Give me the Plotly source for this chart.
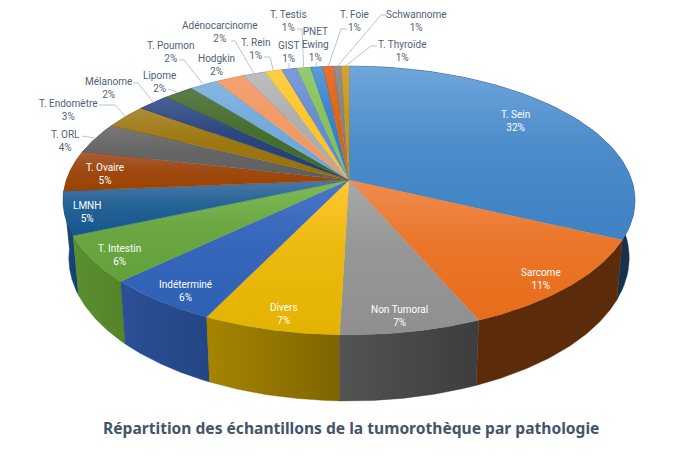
import numpy as np
import plotly.graph_objects as go
from plotly.colors import find_intermediate_color, hex_to_rgb

categories = ["T. Sein", "Sarcome", "Non Tumoral", "Divers", "Indéterminé", "T. Intestin", "LMNH",
              "T. Ovaire", "T. ORL", "T. Endomètre", "Mélanome", "Lipome", "T. Poumon", "Hodgkin",
              "Adénocarcinome", "T. Rein", "GIST", "T. Testis", "PNET<br>Ewing", "T. Foie",
              "Schwannome", "T. Thyroïde"]
values = [32.0, 11.5, 6.9, 6.7, 5.7, 5.6, 5.2, 4.9, 3.7, 2.9, 2.1, 2.0, 1.8, 1.9, 1.5, 1.1, 1.0, 0.9,
          0.8, 0.7, 0.5, 0.5]
percent_labels = ["32%", "11%", "7%", "7%", "6%", "6%", "5%", "5%", "4%", "3%", "2%", "2%", "2%", "2%",
                  "2%", "1%", "1%", "1%", "1%", "1%", "1%", "1%"]
title_text = "Répartition des échantillons de la tumorothèque par pathologie"

top_light = ["#70a6db", "#ef8c50", "#a8a8a8", "#ffc832", "#4a76c8", "#80ba58", "#4a7aa6", "#aa5e3c",
             "#787878", "#ae8c38", "#4a6096", "#5c7c4c", "#88b6e2", "#f4a272", "#bebebe", "#ffce48",
             "#7d9cd8", "#96ca74", "#5c9ad8", "#e47238", "#909090", "#d4a03c"]
top_dark = ["#3d82c4", "#e86c1a", "#8f8f8f", "#e4b200", "#2e60b4", "#62a03a", "#15578f", "#9c4200",
            "#5e5e5e", "#967000", "#1f3c74", "#3f6a22", "#6aa5dc", "#f09860", "#a9a9a9", "#fcc31c",
            "#5f88cf", "#80c050", "#2b78c6", "#db5f00", "#7f7f7f", "#c89400"]
wall_left = ["#1e4468", "#5b2b0a", "#535353", "#a68500", "#2c4f96", "#5a8f30", "#164f80", "#7a3000",
             "#4a4a4a", "#6e5500", "#16294f", "#2a4a18", "#4a78a0", "#a8603a", "#707070", "#a88a10",
             "#3d5a90", "#5a8a38", "#1e5590", "#983f00", "#585858", "#8a6800"]
wall_right = ["#16314e", "#5b2b0a", "#3d3d3d", "#7f6500", "#234684", "#548428", "#123f68", "#7a3000",
              "#4a4a4a", "#6e5500", "#16294f", "#2a4a18", "#4a78a0", "#a8603a", "#707070", "#a88a10",
              "#3d5a90", "#5a8a38", "#1e5590", "#983f00", "#585858", "#8a6800"]

label_pos = {
    "T. Sein": (515, 107), "Sarcome": (541, 265), "Non Tumoral": (399, 302), "Divers": (284, 300),
    "Indéterminé": (185, 277), "T. Intestin": (119, 241), "LMNH": (87, 198), "T. Ovaire": (105, 160),
    "T. ORL": (65, 127), "T. Endomètre": (68, 96), "Mélanome": (108, 74), "Lipome": (159, 68),
    "T. Poumon": (170, 38), "Hodgkin": (216, 51), "Adénocarcinome": (220, 18), "T. Rein": (255, 35),
    "T. Testis": (288, 7), "GIST": (288.5, 38), "PNET<br>Ewing": (315, 24), "T. Foie": (354, 7),
    "Schwannome": (416, 7), "T. Thyroïde": (402, 37),
}
inside = {"T. Sein", "Sarcome", "Non Tumoral", "Divers", "Indéterminé", "T. Intestin", "LMNH", "T. Ovaire"}
leader_start = {
    "T. ORL": [(82, 136)], "T. Endomètre": [(99, 105), (115, 105)], "Mélanome": [(133, 83), (138, 83)],
    "Lipome": [(168, 89)], "T. Poumon": [(179, 60), (184, 60)], "Adénocarcinome": [(231, 41), (235, 41)],
    "T. Rein": [(264, 57), (270, 57)], "GIST": [(289, 63)], "T. Testis": [(297, 29), (302, 29)],
    "PNET<br>Ewing": [(316, 62)], "T. Foie": [(347, 29), (341, 29)], "Schwannome": [(387, 15), (381, 15)],
    "T. Thyroïde": [(377, 46), (371, 46)],
}

# perspective model of the disc
CX, CY, A, B, K = 349.0, 180.0, 282.6, 131.3, 0.1524
DEPTH, SHRINK = 56.0, 0.98


def top_point(theta):
    u, v = np.sin(theta), -np.cos(theta)
    w = 1 - K * v
    return CX + A * u / w, CY + B * v / w


def bottom_point(theta):
    x, y = top_point(theta)
    w = 1 + K * np.cos(theta)
    return CX + SHRINK * (x - CX), y + DEPTH / w


def mix(c1, c2, f):
    r, g, b = find_intermediate_color(hex_to_rgb(c1), hex_to_rgb(c2), f)
    return f"rgb({r:.0f},{g:.0f},{b:.0f})"


total = sum(values)
edges = np.concatenate([[0], np.cumsum(values)]) / total * 2 * np.pi

fig = go.Figure()
order = sorted(range(len(values)), key=lambda i: -np.cos((edges[i] + edges[i + 1]) / 2))
for i in order:
    t = np.linspace(edges[i], edges[i + 1], 60)
    xt, yt = top_point(t)
    xb, yb = bottom_point(t)
    fig.add_trace(go.Scatter(
        x=np.concatenate([xt, xb[::-1], xt[:1]]), y=np.concatenate([yt, yb[::-1], yt[:1]]),
        mode="lines", fill="toself", line=dict(width=0.4, color=wall_right[i]),
        fillgradient=dict(type="horizontal", colorscale=[[0, wall_left[i]], [1, wall_right[i]]]),
        hoverinfo="skip", showlegend=False))

for i in range(len(values)):
    t = np.linspace(edges[i], edges[i + 1], 60)
    xt, yt = top_point(t)
    fig.add_trace(go.Scatter(
        x=np.concatenate([[CX], xt, [CX]]), y=np.concatenate([[CY], yt, [CY]]),
        mode="lines", fill="toself", line=dict(width=0.3, color=top_dark[i]),
        fillgradient=dict(type="vertical", colorscale=[
            [0, top_dark[i]], [0.55, mix(top_dark[i], top_light[i], 0.3)], [1, top_light[i]]]),
        hoverinfo="text", text=f"{categories[i]} {percent_labels[i]}", showlegend=False))

for i, name in enumerate(categories):
    if name in leader_start:
        mid = (edges[i] + edges[i + 1]) / 2
        ex, ey = top_point(mid)
        pts = leader_start[name] + [(ex, ey)]
        fig.add_trace(go.Scatter(x=[p[0] for p in pts], y=[p[1] for p in pts], mode="lines",
                                 line=dict(width=1, color="#b9c4d3"), hoverinfo="skip", showlegend=False))

annotations = []
for i, name in enumerate(categories):
    x, y = label_pos[name]
    annotations.append(dict(
        x=x, y=y, xref="x", yref="y", xanchor="center", yanchor="top", showarrow=False,
        text=f"{name}<br>{percent_labels[i]}", align="center",
        font=dict(family="Roboto", size=10, color="#ffffff" if name in inside else "#505f75")))
annotations.append(dict(
    x=350.5, y=428, xref="x", yref="y", xanchor="center", yanchor="middle", showarrow=False,
    text=f"<b>{title_text}</b>", font=dict(family="Noto Sans", size=15.6, color="#44546a")))

fig.update_layout(
    width=700, height=474, autosize=False, margin=dict(l=0, r=0, t=0, b=0),
    paper_bgcolor="#ffffff", plot_bgcolor="#ffffff", annotations=annotations,
    xaxis=dict(range=[0, 700], visible=False, fixedrange=True),
    yaxis=dict(range=[474, 0], visible=False, fixedrange=True),
)
fig.write_html("out.html", config={"displayModeBar": False},
               post_script="document.body.style.margin='0';document.documentElement.style.overflow='hidden';")
